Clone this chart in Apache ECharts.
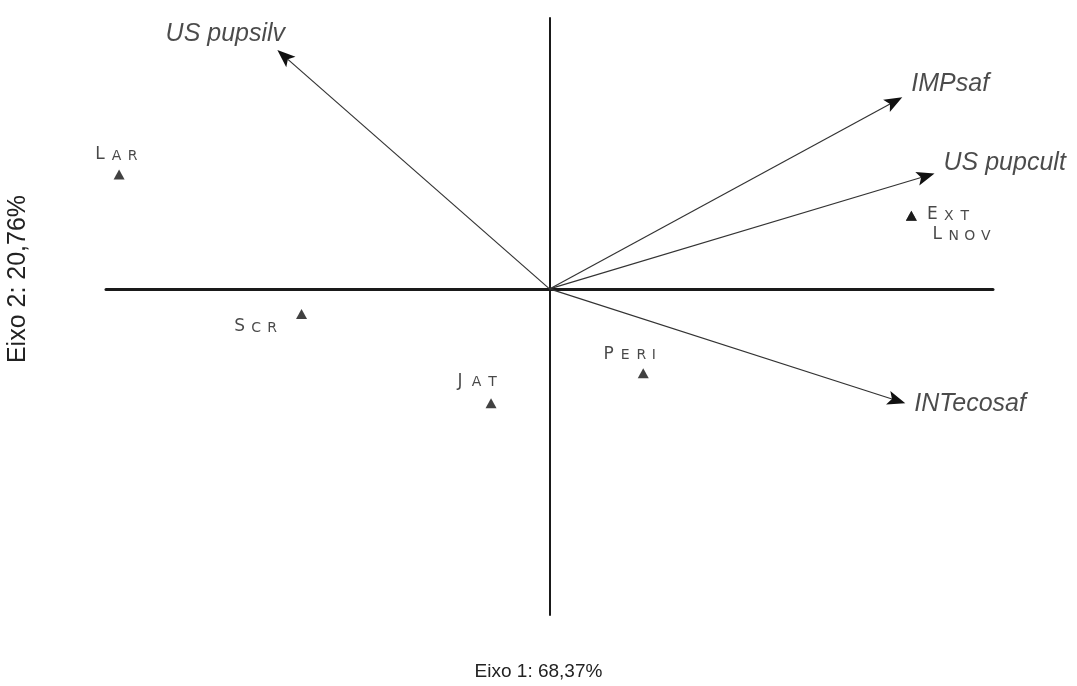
<!DOCTYPE html>
<html>
<head>
<meta charset="utf-8">
<script src="https://cdn.jsdelivr.net/npm/echarts@6/dist/echarts.min.js"></script>
<style>
  html, body { margin: 0; padding: 0; background: #fff; }
  #chart { width: 1077px; height: 686px; }
</style>
</head>
<body>
<div id="chart"></div>
<script>
// Sites: scores on axis 1 and axis 2 (Lnov sits on the same spot as Ext)
const siteNames = ['Lar', 'Scr', 'Jat', 'Peri', 'Ext', 'Lnov'];
const siteAxis1 = [-4.27, -2.46, -0.58, 0.93, 3.59, 3.59];
const siteAxis2 = [1.14, -0.25, -1.14, -0.84, 0.73, 0.73];

// Variables: arrow tips on axis 1 and axis 2
const varNames = ['US pupsilv', 'IMPsaf', 'US pupcult', 'INTecosaf'];
const varAxis1 = [-2.70, 3.50, 3.82, 3.53];
const varAxis2 = [2.38, 1.91, 1.15, -1.14];

// Axis titles
const axis1Title = 'Eixo 1: 68,37%';
const axis2Title = 'Eixo 2: 20,76%';

// Label placement (pixels) for each site label
const siteLabelOffset = {
  Lar: [-3, -20], Scr: [-46, 13], Jat: [-15, -22],
  Peri: [-14, -19], Ext: [37, -1], Lnov: [50, 19]
};

// Label placement for each variable label
const varLabelLayout = {
  'US pupsilv': { align: 'center', offset: [-52, -16] },
  'IMPsaf':     { align: 'left',   offset: [9, -13] },
  'US pupcult': { align: 'left',   offset: [9, -10] },
  'INTecosaf':  { align: 'left',   offset: [9, 1] }
};

// Small-caps rendering: first letter full size, the rest as reduced capitals
function smallCaps(name) {
  return name.split('').map(function (ch, i) {
    const up = ch.toUpperCase();
    const key = i === 0 ? 'c' : (up === 'I' ? 'si' : 's');
    return '{' + key + '|' + up + '}';
  }).join('');
}

const scFont = 'DejaVu Sans';
const richSC = {
  c:  { fontFamily: scFont, fontSize: 17, width: 17, align: 'center', verticalAlign: 'bottom', lineHeight: 17, color: '#1a1a1a' },
  s:  { fontFamily: scFont, fontSize: 14, width: 16, align: 'center', verticalAlign: 'bottom', lineHeight: 14, color: '#1a1a1a' },
  si: { fontFamily: scFont, fontSize: 14, width: 9, align: 'center', verticalAlign: 'bottom', lineHeight: 14, color: '#1a1a1a' }
};

const chart = echarts.init(document.getElementById('chart'), null, { renderer: 'canvas' });

const option = {
  backgroundColor: '#fff',
  animation: false,
  grid: { left: 106, right: 84, top: 18, bottom: 71 },
  xAxis: {
    type: 'value', min: -4.4, max: 4.4,
    axisLine: { show: true, onZero: true, lineStyle: { color: '#1a1a1a', width: 3 } },
    axisTick: { show: false }, axisLabel: { show: false }, splitLine: { show: false }
  },
  yAxis: {
    type: 'value', min: -3.25, max: 2.7,
    axisLine: { show: true, onZero: true, lineStyle: { color: '#1a1a1a', width: 2 } },
    axisTick: { show: false }, axisLabel: { show: false }, splitLine: { show: false }
  },
  graphic: [
    {
      type: 'text', left: 'center', top: 662,
      style: { text: axis1Title, font: '19px "Liberation Sans", Arial, sans-serif', fill: '#222' }
    },
    {
      type: 'text', x: 18, y: 279, rotation: Math.PI / 2,
      style: { text: axis2Title, font: '25px "Liberation Sans", Arial, sans-serif', fill: '#222',
               align: 'center', verticalAlign: 'middle' }
    }
  ],
  series: [
    {
      // arrows from the origin to each variable
      type: 'custom',
      silent: true,
      data: varNames.map(function (n, i) { return [varAxis1[i], varAxis2[i]]; }),
      renderItem: function (params, api) {
        const o = api.coord([0, 0]);
        const t = api.coord([api.value(0), api.value(1)]);
        const dx = t[0] - o[0], dy = t[1] - o[1];
        const len = Math.sqrt(dx * dx + dy * dy);
        const ux = dx / len, uy = dy / len, nx = -uy, ny = ux;
        const L = 18, W = 7, N = 4;
        const bx = t[0] - ux * L, by = t[1] - uy * L;
        const notch = [t[0] - ux * (L - N), t[1] - uy * (L - N)];
        return {
          type: 'group',
          children: [
            { type: 'line', shape: { x1: o[0], y1: o[1], x2: notch[0], y2: notch[1] },
              style: { stroke: '#333', lineWidth: 1.2 } },
            { type: 'polygon',
              shape: { points: [t, [bx + nx * W, by + ny * W], notch, [bx - nx * W, by - ny * W]] },
              style: { fill: '#111' } }
          ]
        };
      }
    },
    {
      // variable names at the arrow tips
      type: 'scatter',
      silent: true,
      symbolSize: 0,
      data: varNames.map(function (n, i) {
        const lay = varLabelLayout[n];
        return {
          name: n, value: [varAxis1[i], varAxis2[i]],
          label: { align: lay.align, offset: lay.offset }
        };
      }),
      label: {
        show: true, position: 'inside', formatter: '{b}',
        fontFamily: '"Liberation Sans", Arial, sans-serif', fontStyle: 'italic',
        fontSize: 25, color: '#1e1e1e', verticalAlign: 'middle'
      }
    },
    {
      // sites
      type: 'scatter',
      silent: true,
      symbol: 'triangle',
      symbolSize: [11, 10],
      itemStyle: { color: '#111' },
      data: siteNames.map(function (n, i) {
        return {
          name: n, value: [siteAxis1[i], siteAxis2[i]],
          label: { offset: siteLabelOffset[n] }
        };
      }),
      label: {
        show: true, position: 'inside',
        formatter: function (p) { return smallCaps(p.name); },
        rich: richSC
      }
    }
  ]
};

chart.setOption(option);
</script>
</body>
</html>
